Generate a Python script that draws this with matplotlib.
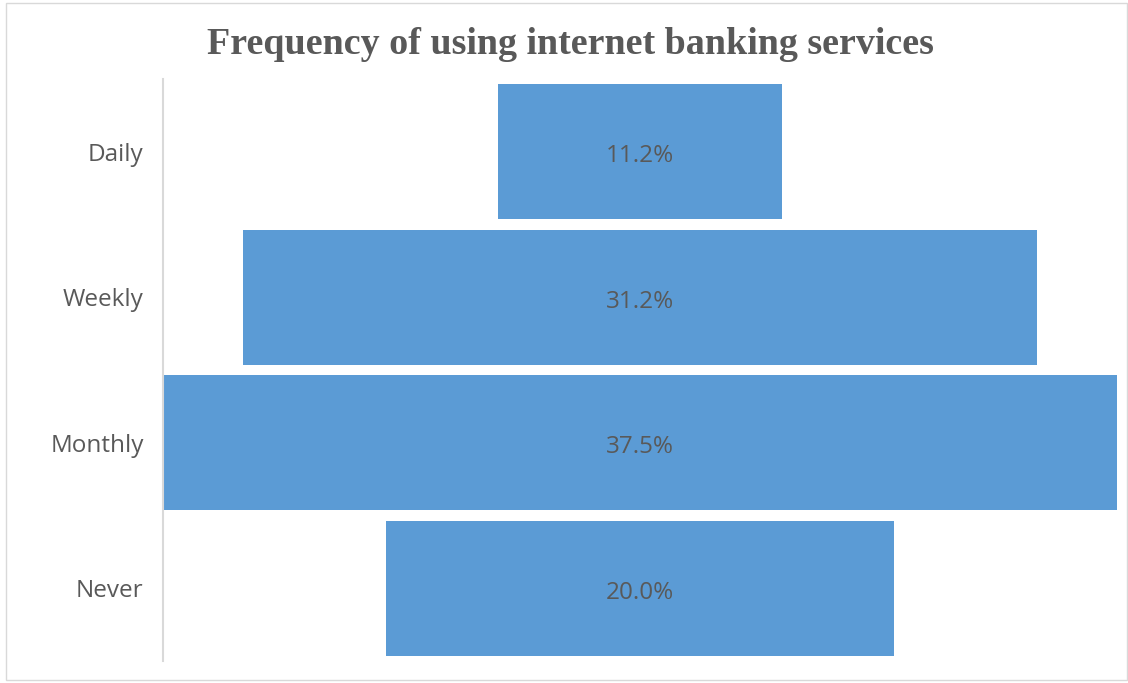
import matplotlib.pyplot as plt
from matplotlib.patches import Rectangle

categories = ["Daily", "Weekly", "Monthly", "Never"]
shares = [11.2, 31.2, 37.5, 20.0]
labels = ["11.2%", "31.2%", "37.5%", "20.0%"]

bar_color = "#5B9BD5"
text_color = "#595959"

fig = plt.figure(figsize=(11.28, 6.83), dpi=100)
ax = fig.add_axes([163 / 1128, 1 - 661 / 683, (1117 - 163) / 1128, 582 / 683])

# funnel: each bar centred on zero
ypos = list(range(len(categories)))
lefts = [-s / 2 for s in shares]
ax.barh(ypos, shares, left=lefts, height=0.93, color=bar_color)
for y, s, lab in zip(ypos, shares, labels):
    ax.text(0, y + 0.03, lab, ha="center", va="center", fontsize=17.5,
            color=text_color, family="Open Sans")

ax.set_xlim(-max(shares) / 2, max(shares) / 2)
ax.set_ylim(len(categories) - 0.5, -0.5)
ax.set_yticks(ypos)
ax.set_yticklabels(categories, fontsize=17.5, color=text_color, family="Open Sans")
ax.tick_params(axis="y", length=0, pad=14)
ax.set_xticks([])
for side in ["top", "right", "bottom"]:
    ax.spines[side].set_visible(False)
ax.spines["left"].set_color("#D9D9D9")
ax.spines["left"].set_linewidth(1.5)

fig.text(570 / 1128, 1 - 44 / 683, "Frequency of using internet banking services",
         ha="center", va="center", fontsize=27.4, fontweight="bold",
         family="Liberation Serif", color=text_color)

# light chart-area border
fig.patches.append(Rectangle((6 / 1128, 3 / 683), 1 - 7 / 1128, 1 - 6 / 683,
                             transform=fig.transFigure, fill=False,
                             edgecolor="#D9D9D9", linewidth=1))

fig.savefig("out.png", dpi=100)
